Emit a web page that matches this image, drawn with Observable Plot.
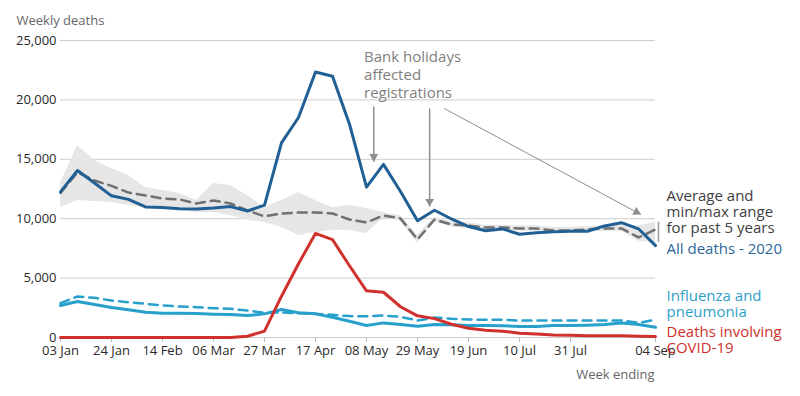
<!DOCTYPE html>
<html><head><meta charset="utf-8">
<script src="https://cdn.jsdelivr.net/npm/d3@7"></script>
<script src="https://cdn.jsdelivr.net/npm/@observablehq/plot@0.6"></script>
<style>
html,body{margin:0;padding:0;background:#fff;}
#chart{width:800px;height:396px;overflow:hidden;}
</style></head><body><div id="chart"></div>
<script>
// Week ending dates (2020)
const weeks = ["2020-01-03","2020-01-10","2020-01-17","2020-01-24","2020-01-31","2020-02-07","2020-02-14","2020-02-21","2020-02-28","2020-03-06","2020-03-13","2020-03-20","2020-03-27","2020-04-03","2020-04-10","2020-04-17","2020-04-24","2020-05-01","2020-05-08","2020-05-15","2020-05-22","2020-05-29","2020-06-05","2020-06-12","2020-06-19","2020-06-26","2020-07-03","2020-07-10","2020-07-17","2020-07-24","2020-07-31","2020-08-07","2020-08-14","2020-08-21","2020-08-28","2020-09-04"];
// All deaths 2020
const allDeaths2020 = [12254,14058,13002,11925,11627,10986,10944,10841,10816,10895,11019,10645,11141,16387,18516,22351,21997,17953,12657,14573,12288,9824,10709,9976,9339,8979,9140,8690,8823,8891,8945,8946,9392,9667,9150,7739];
// Past 5 years: average, min, max
const avg5yr = [12175,13900,13216,12760,12200,11950,11700,11620,11280,11530,11280,10690,10190,10440,10520,10520,10440,9930,9680,10270,10020,8250,9930,9510,9430,9260,9260,9180,9180,9010,9010,9100,9180,9180,8420,9090];
const min5yr = [10940,11530,11450,11360,11110,10940,10770,10690,10520,10520,10270,9850,9680,9260,8590,8840,9010,9010,8750,10050,9800,7950,9700,9300,9200,9050,9050,8950,8950,8800,8800,8880,8950,8950,8100,8000];
const max5yr = [12960,16160,14900,14230,13640,12630,12370,12120,11530,12960,12790,11950,10940,11530,12200,11530,10940,11110,10860,10500,10250,8600,10150,9750,9650,9450,9450,9400,9400,9250,9250,9320,9400,9450,9400,9700];
// Deaths involving COVID-19
const covid2020 = [0,0,0,0,0,0,0,0,0,0,5,103,539,3475,6213,8758,8237,6035,3930,3810,2589,1822,1588,1114,783,606,532,366,295,217,193,152,139,138,101,78];
// Influenza and pneumonia 2020 and 5-year average
const flu2020 = [2690,3030,2780,2530,2330,2130,2050,2050,2020,1960,1930,1850,1990,2360,2080,1990,1710,1370,1010,1230,1090,950,1090,1070,1010,1010,980,930,930,1010,1010,1040,1090,1230,1090,870];
const fluAvg5yr = [2890,3450,3340,3110,2970,2830,2690,2610,2550,2470,2410,2270,2080,2100,2050,1990,1910,1800,1780,1850,1740,1430,1680,1570,1520,1490,1490,1430,1430,1430,1430,1430,1430,1430,1230,1490];
// Axis ticks
const xTickLabels = ["2020-01-03","2020-01-24","2020-02-14","2020-03-06","2020-03-27","2020-04-17","2020-05-08","2020-05-29","2020-06-19","2020-07-10","2020-07-31","2020-09-04"];
const yTicks = [0,5000,10000,15000,20000,25000];
// Series labels
const seriesLabels = [
  {date:"2020-09-04", value:12460, text:"Average and\nmin/max range\nfor past 5 years", color:"#414042"},
  {date:"2020-09-04", value:8000, text:"All deaths - 2020", color:"#2c679a"},
  {date:"2020-09-04", value:4040, text:"Influenza and\npneumonia", color:"#2f9fc9"},
  {date:"2020-09-04", value:1010, text:"Deaths involving\nCOVID-19", color:"#d0312d"}
];
// Annotation
const annoText = [{date:"2020-05-07", value:24330, text:"Bank holidays\naffected\nregistrations"}];
const annoArrowsVertical = [
  {x1:"2020-05-11", y1:19440, x2:"2020-05-11", y2:14800},
  {x1:"2020-06-03", y1:19280, x2:"2020-06-03", y2:11030}
];
const annoArrowsDiagonal = [
  {x1:"2020-06-09", y1:19280, x2:"2020-08-29", y2:10350}
];

const parse = d3.utcParse("%Y-%m-%d");
const rows = weeks.map((w,i)=>({date: parse(w), all: allDeaths2020[i], avg: avg5yr[i], min: min5yr[i], max: max5yr[i], covid: covid2020[i], flu: flu2020[i], fluAvg: fluAvg5yr[i]}));
const tickDates = xTickLabels.map(parse);
const labs = seriesLabels.map(d=>({...d, date: parse(d.date)}));
const at = annoText.map(d=>({...d, date: parse(d.date)}));
const av = annoArrowsVertical.map(d=>({...d, x1: parse(d.x1), x2: parse(d.x2)}));
const ad = annoArrowsDiagonal.map(d=>({...d, x1: parse(d.x1), x2: parse(d.x2)}));
const arrowGrey = "#8e8e8e";

const plot = Plot.plot({
  width: 800, height: 396,
  marginLeft: 60, marginRight: 145, marginTop: 40, marginBottom: 59,
  style: {fontFamily: "'Open Sans', sans-serif", fontSize: "13px", color: "#2a2a2a", background: "#fff", overflow: "visible"},
  x: {type: "utc", domain: [rows[0].date, rows[rows.length-1].date]},
  y: {domain: [0, 25000]},
  marks: [
    Plot.gridY(yTicks, {stroke: "#cccccc", strokeOpacity: 1, strokeWidth: 1}),
    Plot.areaY(rows, {x: "date", y1: "min", y2: "max", fill: "#e6e6e6", curve: "linear"}),
    Plot.axisY(yTicks, {tickSize: 0, tickPadding: 4, tickFormat: d3.format(","), label: null, fill: "#2a2a2a", fontSize: 13}),
    Plot.axisX(tickDates, {tickSize: 5, tickPadding: 3, tickFormat: d3.utcFormat("%d %b"), label: null, stroke: "#bdbdbd", fill: "#2a2a2a", fontSize: 13}),
    Plot.ruleX(rows.slice(-1), {x: "date", y1: "min", y2: "max", dx: 3, stroke: "#9a9a9a", strokeWidth: 1.5}),
    Plot.lineY(rows, {x: "date", y: "avg", stroke: "#707070", strokeWidth: 2.5, strokeDasharray: "9,6"}),
    Plot.lineY(rows, {x: "date", y: "fluAvg", stroke: "#27a0cc", strokeWidth: 2.5, strokeDasharray: "9,6"}),
    Plot.lineY(rows, {x: "date", y: "flu", stroke: "#27a0cc", strokeWidth: 3}),
    Plot.lineY(rows, {x: "date", y: "covid", stroke: "#d0312d", strokeWidth: 3}),
    Plot.lineY(rows, {x: "date", y: "all", stroke: "#206095", strokeWidth: 3}),
    // annotation
    Plot.text(at, {x: "date", y: "value", text: "text", textAnchor: "start", lineAnchor: "top", lineHeight: 1.23, fontSize: 15, fill: "#808080"}),
    Plot.link(av, {x1: "x1", y1: "y1", x2: "x2", y2: "y2", stroke: arrowGrey, strokeWidth: 1.5}),
    Plot.dot(av, {x: "x2", y: "y2", symbol: "triangle", r: 3.3, fill: arrowGrey, stroke: "none", rotate: 180, dy: -5}),
    Plot.link(ad, {x1: "x1", y1: "y1", x2: "x2", y2: "y2", stroke: arrowGrey, strokeWidth: 1}),
    Plot.dot(ad, {x: "x2", y: "y2", symbol: "triangle", r: 3.3, fill: arrowGrey, stroke: "none", rotate: 118, dx: -4.4, dy: -2.4}),
    // series labels
    Plot.text(labs, {x: "date", y: "value", text: "text", dx: 11, textAnchor: "start", lineAnchor: "top", lineHeight: 1.07, fontSize: 15, fill: "color"}),
    // axis titles
    Plot.text(["Weekly deaths"], {frameAnchor: "top-left", dx: -44, dy: -25, lineAnchor: "top", fontSize: 13, fill: "#666"}),
    Plot.text(["Week ending"], {frameAnchor: "bottom-right", dx: -1, dy: 32, lineAnchor: "top", textAnchor: "end", fontSize: 13, fill: "#666"})
  ]
});
document.getElementById("chart").appendChild(plot);
</script>
</body></html>
